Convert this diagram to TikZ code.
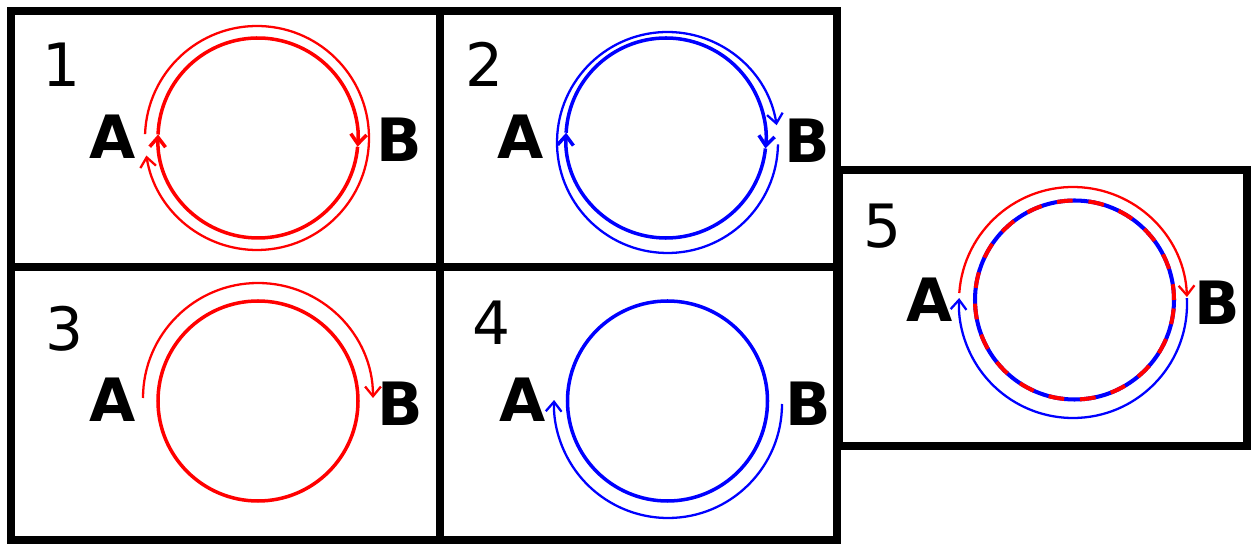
\documentclass[tikz,border=0pt]{standalone}
\usepackage{fontspec}
\setmainfont{DejaVu Sans}
\usetikzlibrary{arrows.meta}

\begin{document}
\begin{tikzpicture}[x=0.02cm,y=0.02cm,
  panel/.style={line width=4.3pt},
  ring/.style={line width=2pt},
  trip/.style={line width=1.3pt},
  tip/.style={-{Straight Barb[length=5.5pt,width=9pt]}},
  lab/.style={inner sep=0pt,font=\fontsize{34}{40}\selectfont\bfseries},
  num/.style={inner sep=0pt,font=\fontsize{34}{40}\selectfont}]
\useasboundingbox (0,0) rectangle (1251,544);
\draw[panel] (11,277) rectangle (440,533);
\draw[panel] (440,277) rectangle (837,533);
\draw[panel] (11,4) rectangle (440,277);
\draw[panel] (440,4) rectangle (837,277);
\draw[panel] (839,98) rectangle (1247,374);
\draw[red,ring,tip] (258,406) ++(178:100) arc[start angle=178,end angle=-5,radius=100];
\draw[red,ring,tip] (258,406) ++(-5:100) arc[start angle=-5,end angle=-182,radius=100];
\draw[red,trip,tip] (257,406) ++(178:112) arc[start angle=178,end angle=-171,radius=112];
\draw[blue,ring,tip] (666,406) ++(177:100) arc[start angle=177,end angle=-6,radius=100];
\draw[blue,ring,tip] (666,406) ++(-6:100) arc[start angle=-6,end angle=-183,radius=100];
\draw[blue,trip,tip] (667.5,401.5) ++(-1:110.5) arc[start angle=-1,end angle=-351,radius=110.5];
\draw[red,ring] (258,143) circle (100);
\draw[red,trip,tip] (258,146) ++(180:115) arc[start angle=180,end angle=0,radius=115];
\draw[blue,ring] (667.5,143) circle (100);
\draw[blue,trip,tip] (668,140) ++(0:114) arc[start angle=0,end angle=-182,radius=114];
\draw[blue,line width=2.3pt] (1074.5,244) circle (99.5);
\draw[red,line width=2.3pt,dash pattern=on 9pt off 9pt] (1074.5,244) circle (99.5);
\draw[red,trip,tip] (1073,243) ++(176:114) arc[start angle=176,end angle=2,radius=114];
\draw[blue,trip,tip] (1073,240) ++(3:114) arc[start angle=3,end angle=-183,radius=114];
\node[num] (n1) at (61.5,479.5) {1};
\node[lab] (a1) at (113,407.5) {A};
\node[lab] (b1) at (399,404) {B};
\node[num] (n2) at (484.5,479.5) {2};
\node[lab] (a2) at (520.5,407.5) {A};
\node[lab] (b2) at (807,403.5) {B};
\node[num] (n3) at (65,215.5) {3};
\node[lab] (a3) at (113,144.5) {A};
\node[lab] (b3) at (400.5,140) {B};
\node[num] (n4) at (491,221.5) {4};
\node[lab] (a4) at (522.5,144.5) {A};
\node[lab] (b4) at (808,140) {B};
\node[num] (n5) at (882.5,317.5) {5};
\node[lab] (a5) at (929.5,244.5) {A};
\node[lab] (b5) at (1217,241.5) {B};
\end{tikzpicture}
\end{document}
